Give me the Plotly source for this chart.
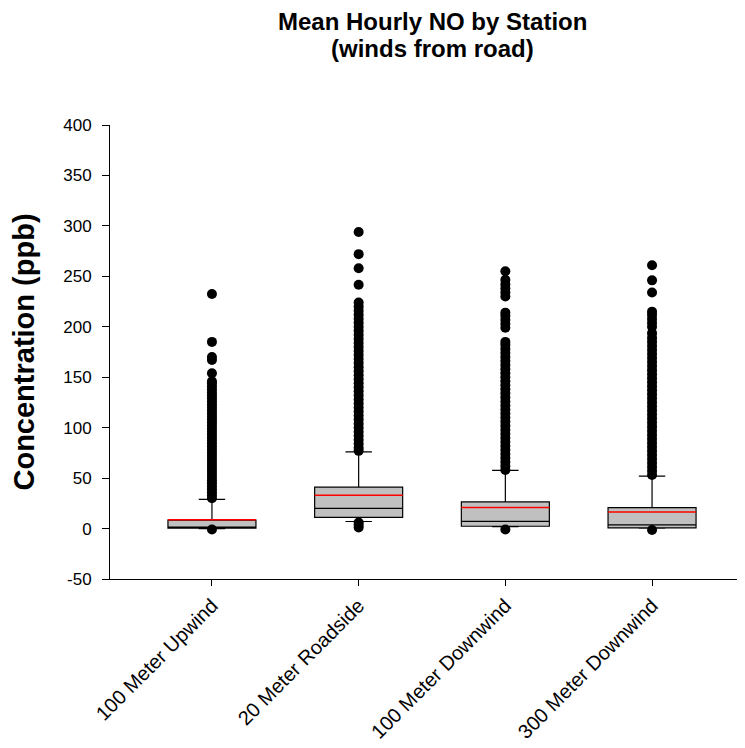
import plotly.graph_objects as go

stations = ["100 Meter Upwind", "20 Meter Roadside", "100 Meter Downwind", "300 Meter Downwind"]
q1 = [0.3, 11, 2.3, 0.7]
median = [1.5, 20, 7.2, 3.6]
q3 = [8.3, 41, 26.4, 20.8]
lowerfence = [0, 7, 2, 0.5]
upperfence = [29, 76, 57.7, 52]
means = [8.8, 33, 20.8, 16.5]

upwind_out = [-1, 30, 33, 36, 39, 42, 45, 48, 51, 54, 57, 60, 63, 66, 69, 72, 75, 78, 81, 84,
              87, 90, 93, 96, 99, 102, 105, 108, 111, 114, 117, 120, 123, 126, 129, 132, 135,
              138, 141, 144, 146, 154, 167, 170, 185, 232.5]
roadside_out = [1, 3.5, 6, 77, 80, 84, 88, 92, 96, 100, 104, 108, 112, 116, 120, 124, 128, 132,
                136, 140, 144, 148, 152, 156, 160, 164, 168, 172, 176, 180, 184, 188, 192, 196,
                200, 204, 208, 212, 216, 220, 224, 241.6, 258, 272, 294]
down100_out = [-1, 58, 62, 66, 70, 74, 78, 82, 86, 90, 94, 98, 102, 106, 110, 114, 118, 122, 126,
               130, 134, 138, 142, 146, 150, 154, 158, 162, 166, 170, 174, 178, 182, 185,
               199, 203, 207, 211, 214, 230, 234, 238, 242, 246.5, 255]
down300_out = [-1.5, 53, 57, 61, 65, 69, 73, 77, 81, 85, 89, 93, 97, 101, 105, 109, 113, 117, 121,
               125, 129, 133, 137, 141, 145, 149, 153, 157, 161, 165, 169, 173, 177, 181, 185,
               189, 193.7, 200, 204, 208, 212, 215, 234, 246, 261]
outliers = [upwind_out, roadside_out, down100_out, down300_out]

yticks = [-50, 0, 50, 100, 150, 200, 250, 300, 350, 400]
yticktext = ["-50", "0", "50", "100", "150", "200", "250", "300", "350", "400"]
title_lines = ["Mean Hourly NO by Station", "(winds from road)"]

FONT = "Liberation Sans, Arial, sans-serif"

fig = go.Figure()
fig.add_trace(go.Box(
    x=stations, q1=q1, median=median, q3=q3,
    lowerfence=lowerfence, upperfence=upperfence,
    width=0.6, whiskerwidth=0.3,
    fillcolor="#c0c0c0", line=dict(color="black", width=1.2),
    boxpoints=False, showlegend=False, hoverinfo="skip",
))

ox, oy = [], []
for s, vals in zip(stations, outliers):
    ox += [s] * len(vals)
    oy += vals
fig.add_trace(go.Scatter(
    x=ox, y=oy, mode="markers",
    marker=dict(color="black", size=10, line=dict(width=0)),
    showlegend=False, hoverinfo="skip",
))

fig.add_trace(go.Scatter(
    x=stations, y=means, mode="markers",
    marker=dict(symbol="line-ew", size=63, color="red", line=dict(color="red", width=1.5)),
    showlegend=False, hoverinfo="skip",
))

for i, (line, ypos) in enumerate(zip(title_lines, [1.229, 1.1696])):
    fig.add_annotation(
        text="<b>%s</b>" % line, xref="paper", yref="paper",
        x=0.5087, y=ypos, xanchor="center", yanchor="middle", showarrow=False,
        font=dict(family=FONT, size=24, color="black"),
    )

fig.update_layout(
    width=745, height=748,
    margin=dict(l=102, r=10, t=117, b=177),
    plot_bgcolor="white", paper_bgcolor="white",
    font=dict(family=FONT, color="black"),
)
fig.update_xaxes(
    type="category", range=[-0.695, 3.62],
    showline=True, linecolor="black", linewidth=1,
    ticks="outside", ticklen=6, tickcolor="black",
    tickangle=-45, tickfont=dict(family=FONT, size=20, color="black"),
    showgrid=False, zeroline=False,
)
fig.update_yaxes(
    range=[-50, 400], tickvals=yticks, ticktext=yticktext,
    showline=True, linecolor="black", linewidth=1,
    ticks="outside", ticklen=7, tickcolor="black",
    tickfont=dict(family=FONT, size=17, color="black"),
    ticklabelstandoff=7,
    showgrid=False, zeroline=False,
    title=dict(text="<b>Concentration (ppb)</b>", font=dict(family=FONT, size=29, color="black"), standoff=21),
)

fig.write_html("out.html")
